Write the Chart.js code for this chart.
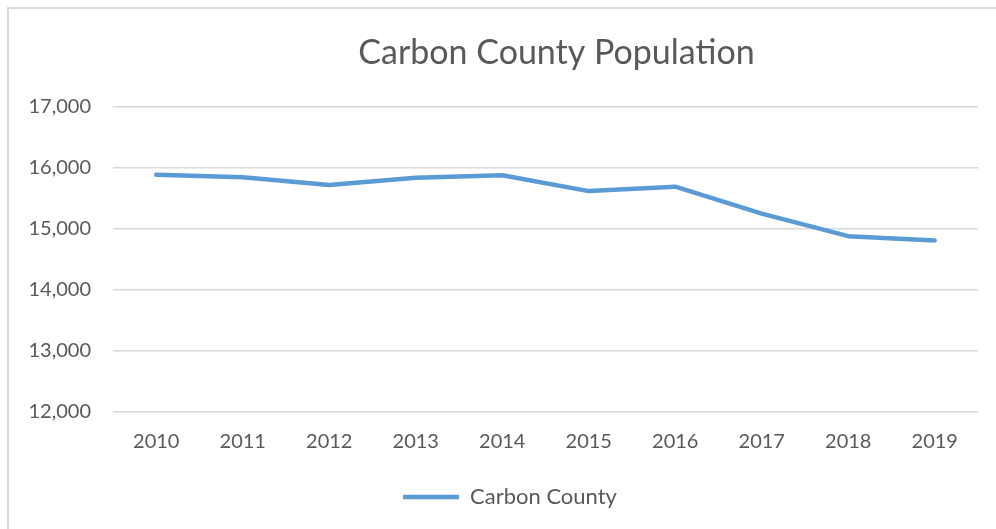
<!DOCTYPE html>
<html>
<head>
<meta charset="utf-8">
<script src="https://cdn.jsdelivr.net/npm/chart.js@4"></script>
<style>
  html, body { margin: 0; padding: 0; background: #fff; }
  #wrap { position: relative; width: 996px; height: 529px; overflow: hidden; }
  #frame { position: absolute; left: 7px; top: 7px; width: 1100px; height: 600px;
           border-left: 2px solid #d9d9d9; border-top: 2px solid #d9d9d9; pointer-events: none; }
  canvas { position: absolute; left: 0; top: 0; }
</style>
</head>
<body>
<div id="wrap">
  <canvas id="c" width="996" height="529"></canvas>
  <div id="frame"></div>
</div>
<script>
const years = ['2010','2011','2012','2013','2014','2015','2016','2017','2018','2019'];
const population = [15886, 15847, 15717, 15837, 15879, 15619, 15691, 15251, 14881, 14811];
const seriesName = 'Carbon County';
const chartTitle = 'Carbon County Population';
const yMin = 12000, yMax = 17000, yStep = 1000;

const textColor = '#595959';
const lineColor = '#5B9BD5';

// Nudge the horizontal centring of the title and legend boxes (Excel centres them differently)
const boxCentring = {
  id: 'boxCentring',
  afterLayout(chart) {
    const lg = chart.legend;
    if (lg) { lg.left += 42; lg.width = lg.right - lg.left; }
    const tt = chart.titleBlock;
    if (tt) { tt.left += 22; tt.width = tt.right - tt.left; }
  }
};

new Chart(document.getElementById('c'), {
  type: 'line',
  data: {
    labels: years,
    datasets: [{
      label: seriesName,
      data: population,
      borderColor: lineColor,
      backgroundColor: lineColor,
      borderWidth: 4.5,
      borderCapStyle: 'round',
      borderJoinStyle: 'round',
      pointRadius: 0,
      pointHoverRadius: 0,
      tension: 0,
      fill: false
    }]
  },
  plugins: [boxCentring],
  options: {
    responsive: false,
    animation: false,
    devicePixelRatio: 1,
    layout: { padding: { left: 0, right: 18, top: 0, bottom: 11 } },
    plugins: {
      title: {
        display: true,
        text: chartTitle,
        fullSize: false,
        color: textColor,
        font: { family: 'Lato', size: 34, weight: 'normal' },
        padding: { top: 33, bottom: 33 }
      },
      legend: {
        display: true,
        position: 'bottom',
        labels: {
          color: textColor,
          font: { family: 'Lato', size: 22 },
          usePointStyle: true,
          pointStyle: 'line',
          pointStyleWidth: 56,
          boxHeight: 22,
          padding: 10
        }
      },
      tooltip: { enabled: false }
    },
    scales: {
      x: {
        offset: true,
        grid: { display: false, drawTicks: false },
        border: { display: false },
        ticks: {
          color: textColor,
          font: { family: 'Lato', size: 20 },
          padding: 18,
          maxRotation: 0,
          autoSkip: false
        },
        afterFit(scale) { scale.height = 64; }
      },
      y: {
        min: yMin,
        max: yMax,
        grid: { color: '#d9d9d9', lineWidth: 1.5, drawTicks: false },
        border: { display: false },
        ticks: {
          stepSize: yStep,
          color: textColor,
          font: { family: 'Lato', size: 20 },
          padding: 22,
          callback: v => v.toLocaleString('en-US')
        },
        afterFit(scale) { scale.width = 113; }
      }
    }
  }
});
</script>
</body>
</html>
